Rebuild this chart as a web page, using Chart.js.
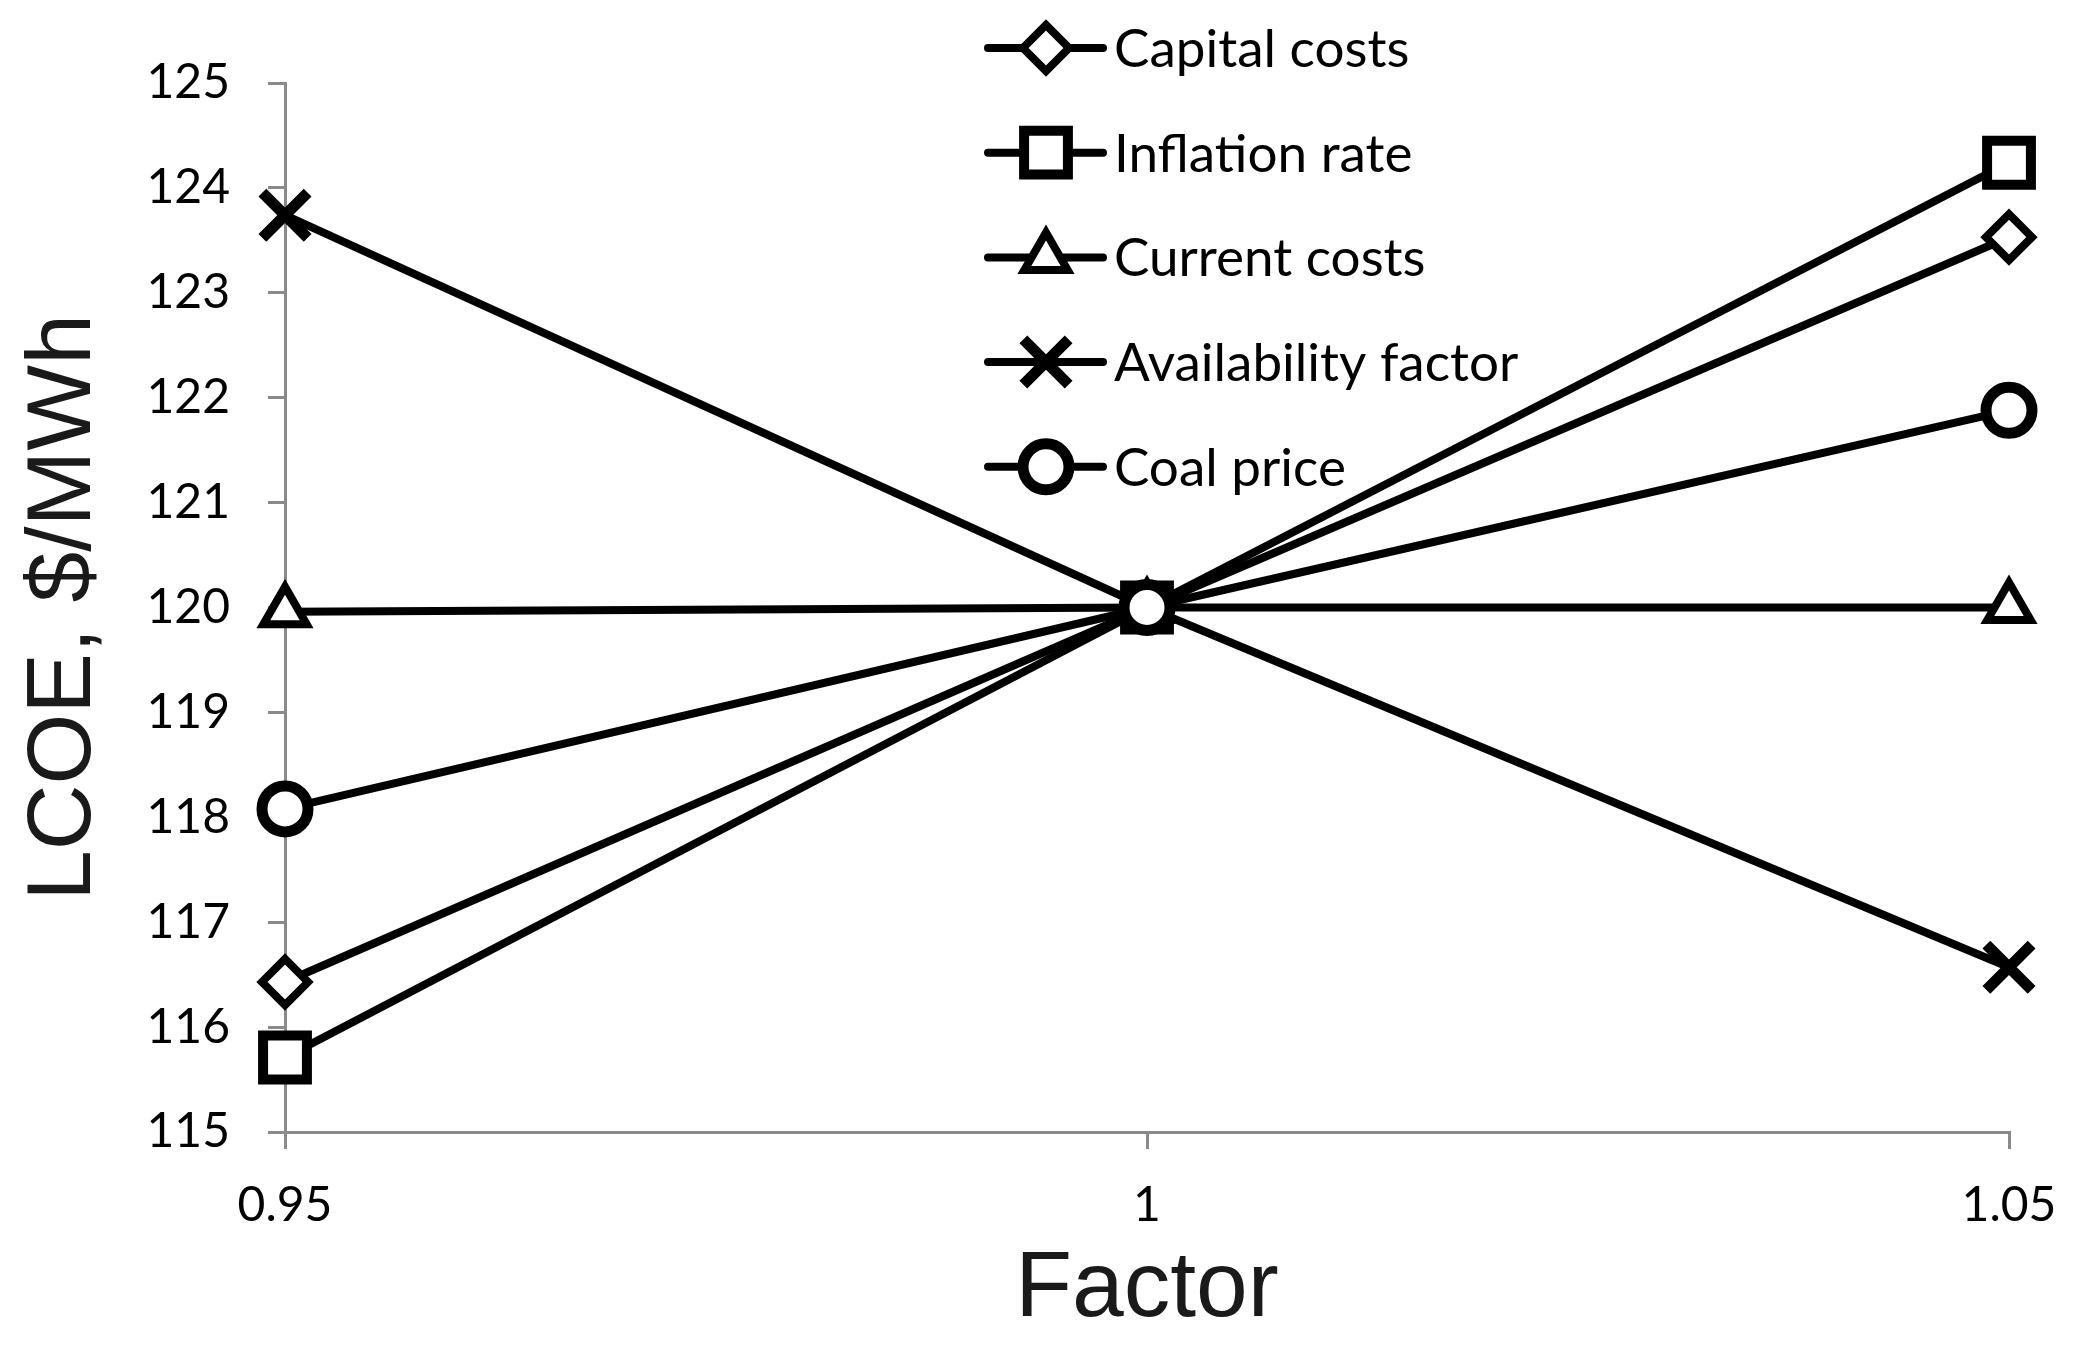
<!DOCTYPE html>
<html>
<head>
<meta charset="utf-8">
<script src="https://cdn.jsdelivr.net/npm/chart.js@4"></script>
<style>
  html, body { margin: 0; padding: 0; background: #fff; }
  #wrap { width: 2076px; height: 1355px; }
</style>
</head>
<body>
<div id="wrap"><canvas id="c" width="2076" height="1355"></canvas></div>
<script>
// ---- data ----
const factors = ['0.95', '1', '1.05'];
const seriesNames = ['Capital costs', 'Inflation rate', 'Current costs', 'Availability factor', 'Coal price'];
const capitalCosts = [116.43, 120, 123.53];
const inflationRate = [115.71, 120, 124.24];
const currentCosts = [119.96, 120, 120.0];
const availabilityFactor = [123.74, 120, 116.57];
const coalPrice = [118.08, 120, 121.88];
const yTicks = [115, 116, 117, 118, 119, 120, 121, 122, 123, 124, 125];

// ---- styles ----
const markerStyles = [
  { pointStyle: 'rectRot', radius: 23, borderWidth: 8 },
  { pointStyle: 'rect', radius: 31, borderWidth: 10 },
  { pointStyle: 'triangle', radius: 25, borderWidth: 8 },
  { pointStyle: 'crossRot', radius: 32, borderWidth: 11 },
  { pointStyle: 'circle', radius: 23, borderWidth: 11 }
];
const seriesData = [capitalCosts, inflationRate, currentCosts, availabilityFactor, coalPrice];
const AXIS = '#8a8a8a';

function build() {
  const datasets = seriesData.map((d, i) => ({
    label: seriesNames[i],
    data: d,
    borderColor: '#000',
    backgroundColor: '#fff',
    borderWidth: 8,
    pointStyle: markerStyles[i].pointStyle,
    pointRadius: markerStyles[i].radius,
    pointBorderWidth: markerStyles[i].borderWidth,
    pointBorderColor: '#000',
    pointBackgroundColor: '#fff',
    tension: 0,
    clip: false,
    order: seriesData.length - i
  }));

  const legendPlugin = {
    id: 'lineMarkerLegend',
    afterDraw(chart) {
      const ctx = chart.ctx;
      ctx.save();
      const x0 = 988, x1 = 1103, mx = 1046, tx = 1114;
      const y0 = 48, dy = 104.7;
      seriesNames.forEach((name, i) => {
        const y = y0 + i * dy;
        ctx.strokeStyle = '#000';
        ctx.lineWidth = 8;
        ctx.lineCap = 'round';
        ctx.beginPath();
        ctx.moveTo(x0, y);
        ctx.lineTo(x1, y);
        ctx.stroke();
        ctx.lineCap = 'butt';
        const m = markerStyles[i];
        ctx.fillStyle = '#fff';
        ctx.strokeStyle = '#000';
        ctx.lineWidth = m.borderWidth;
        Chart.helpers.drawPoint(ctx, {
          pointStyle: m.pointStyle,
          radius: m.radius,
          rotation: 0,
          borderWidth: m.borderWidth
        }, mx, y);
        ctx.fillStyle = '#000';
        ctx.font = '53px Lato';
        ctx.textAlign = 'left';
        ctx.textBaseline = 'alphabetic';
        ctx.fillText(name, tx, y + 19);
      });
      ctx.restore();
    }
  };

  new Chart(document.getElementById('c'), {
    type: 'line',
    data: { labels: factors, datasets },
    plugins: [legendPlugin],
    options: {
      responsive: false,
      animation: false,
      events: [],
      layout: { padding: { top: 83, right: 67, left: 0, bottom: 0 } },
      plugins: { legend: { display: false }, tooltip: { enabled: false } },
      scales: {
        x: {
          type: 'category',
          offset: false,
          border: { display: true, color: AXIS, width: 3 },
          grid: { display: true, drawOnChartArea: false, drawTicks: true, tickLength: 17, color: AXIS, lineWidth: 3 },
          ticks: { color: '#000', font: { family: 'Lato', size: 48 }, padding: 28, maxRotation: 0, autoSkip: false },
          title: { display: true, text: 'Factor', color: '#1a1a1a', font: { family: 'Liberation Sans', size: 93 }, padding: 9 },
          afterFit(scale) {
            scale.height = 1355 - 1132;
            scale.paddingLeft = 0;
            scale.paddingRight = 0;
          }
        },
        y: {
          min: 115,
          max: 125,
          border: { display: true, color: AXIS, width: 3 },
          grid: { display: true, drawOnChartArea: false, drawTicks: true, tickLength: 17, color: AXIS, lineWidth: 3 },
          afterBuildTicks(scale) { scale.ticks = yTicks.map(v => ({ value: v })); },
          ticks: { color: '#000', font: { family: 'Lato', size: 48 }, padding: 38 },
          title: { display: true, text: 'LCOE, $/MWh', color: '#1a1a1a', font: { family: 'Liberation Sans', size: 91 }, padding: 10 },
          afterFit(scale) {
            scale.width = 285;
            scale.paddingTop = 0;
            scale.paddingBottom = 0;
          }
        }
      }
    }
  });
}

if (document.fonts && document.fonts.load) {
  Promise.all([document.fonts.load('48px Lato'), document.fonts.load('90px "Liberation Sans"')])
    .then(build, build);
} else {
  build();
}
</script>
</body>
</html>
